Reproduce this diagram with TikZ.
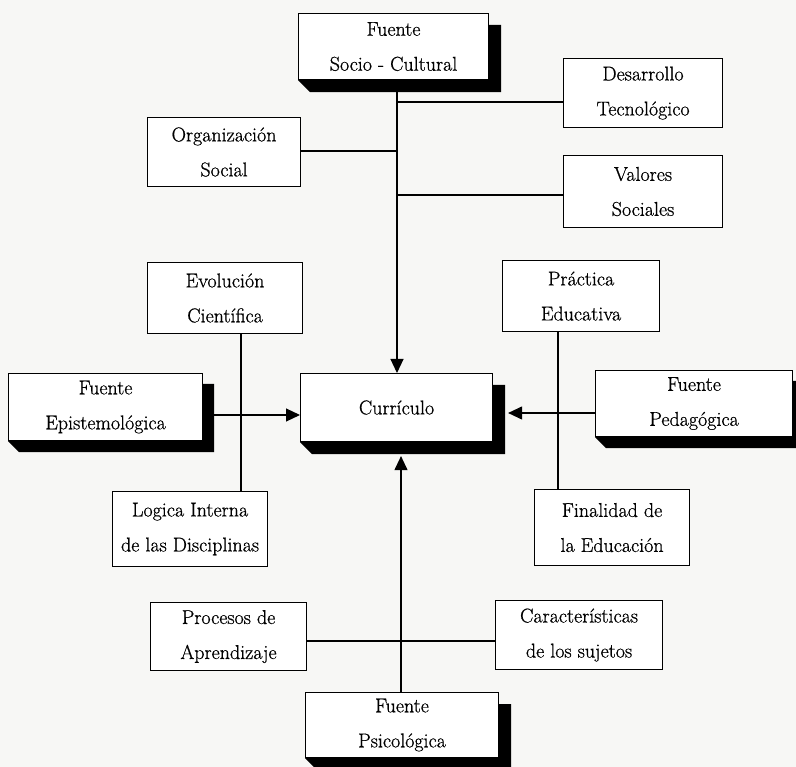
\documentclass[tikz,border=0pt]{standalone}
\usepackage{fontspec}
\usetikzlibrary{arrows.meta,calc}
\newfontfamily\lblfont{Latin Modern Roman}[FakeBold=0.7]
\pgfdeclarelayer{paperlayer}
\pgfdeclarelayer{under}
\pgfsetlayers{paperlayer,under,main}
\definecolor{paper}{RGB}{247,247,245}
\newcommand\lbl{\lblfont\fontsize{20}{35}\selectfont}
% solid extruded shadow below and to the right of a box
\newcommand\boxshadow[2]{%
  \fill ($(#1.north east)+(0,#2)$) -- ($(#1.north east)+(#2,#2)$)
        -- ($(#1.south east)+(#2,#2)$) -- ($(#1.south west)+(#2,#2)$)
        -- (#1.south west) -- (#1.south east) -- cycle;}
\begin{document}
\begin{tikzpicture}[x=1pt,y=-1pt,
  box/.style={draw, line width=1.1pt, fill=white, inner sep=0pt,
    align=center, font=\lbl, anchor=north west},
  conn/.style={line width=1.1pt},
  arr/.style={conn, -{Triangle[length=14pt,width=13pt]}}]
\begin{pgfonlayer}{paperlayer}
  \fill[paper] (0,0) rectangle (796,767);
\end{pgfonlayer}
\useasboundingbox (0,0) rectangle (796,767);

% boxes
\node[box, minimum width=190pt, minimum height=66pt] (socio) at (298,13) {Fuente\\Socio - Cultural};
\node[box, minimum width=159pt, minimum height=69pt] (desa) at (563,58) {Desarrollo\\Tecnológico};
\node[box, minimum width=153pt, minimum height=69pt] (org) at (147,117) {Organización\\Social};
\node[box, minimum width=159pt, minimum height=72pt] (val) at (563,155) {Valores\\Sociales};
\node[box, minimum width=155pt, minimum height=71pt] (evo) at (147,262) {Evolución\\Científica};
\node[box, minimum width=157pt, minimum height=71pt] (prac) at (502,260) {Práctica\\Educativa};
\node[box, minimum width=194pt, minimum height=67pt] (epis) at (8,373) {Fuente\\Epistemológica};
\node[box, minimum width=192pt, minimum height=68pt] (cur) at (300,373) {Currículo};
\node[box, minimum width=197pt, minimum height=66pt] (ped) at (595,370) {Fuente\\Pedagógica};
\node[box, minimum width=155pt, minimum height=75pt] (log) at (112,491) {Logica Interna\\de las Disciplinas};
\node[box, minimum width=155pt, minimum height=76pt] (fin) at (534,489) {Finalidad de\\la Educación};
\node[box, minimum width=156pt, minimum height=68pt] (proc) at (150,602) {Procesos de\\Aprendizaje};
\node[box, minimum width=167pt, minimum height=69pt] (car) at (495,600) {Características\\de los sujetos};
\node[box, minimum width=193pt, minimum height=65pt] (psi) at (305,692) {Fuente\\Psicológica};

% junction points of the connectors
\coordinate (jt) at (397,0);
\coordinate (jb) at (401,0);
\coordinate (ev) at (241,0);
\coordinate (pr) at (558,0);
\coordinate (d1) at (397,102);
\coordinate (o1) at (397,151);
\coordinate (v1) at (397,195);
\coordinate (e1) at (0,415);
\coordinate (p1) at (0,413);
\coordinate (pc) at (0,641);

\begin{pgfonlayer}{under}
  % connectors
  \draw[arr] (socio.south -| jt) -- (cur.north -| jt);
  \draw[conn] (d1) -- (d1 -| desa.west);
  \draw[conn] (o1) -- (o1 -| org.east);
  \draw[conn] (v1) -- (v1 -| val.west);
  \draw[conn] (evo.south -| ev) -- (log.north -| ev);
  \draw[conn] (prac.south -| pr) -- (fin.north -| pr);
  \draw[arr] (e1 -| epis.east) -- (e1 -| cur.west);
  \draw[arr] (p1 -| ped.west) -- ($(p1 -| cur.east)+(15,0)$);
  \draw[arr] (psi.north -| jb) -- ($(cur.south -| jb)+(0,14)$);
  \draw[conn] (pc -| proc.east) -- (pc -| car.west);
  % shadows
  \boxshadow{socio}{12}
  \boxshadow{epis}{11}
  \boxshadow{cur}{12}
  \boxshadow{ped}{11}
  \boxshadow{psi}{12}
\end{pgfonlayer}
\end{tikzpicture}
\end{document}
